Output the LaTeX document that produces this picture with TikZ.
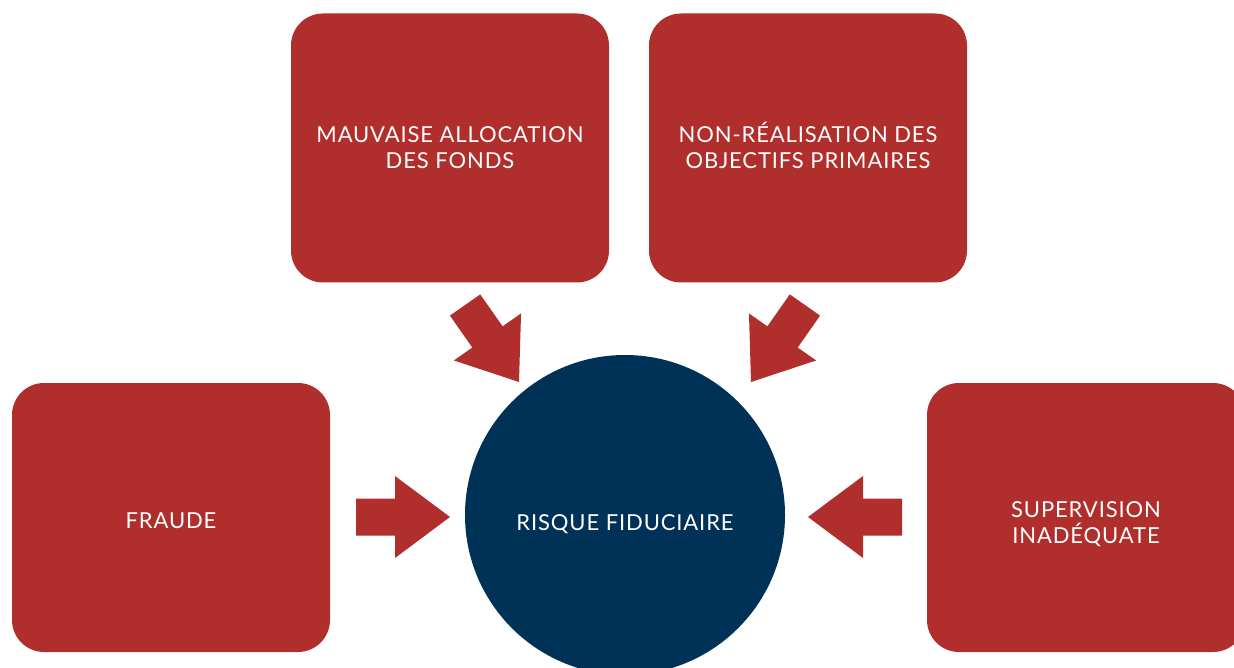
\documentclass[tikz,border=0pt]{standalone}
\usepackage{fontspec}
\setmainfont{Lato}[LetterSpace=4]
\definecolor{boxred}{RGB}{176,46,44}
\definecolor{navy}{RGB}{0,49,87}
\tikzset{
  x=1pt, y=-1pt,
  txt/.style={align=center, text=white, font=\fontsize{22}{26}\selectfont, inner sep=0pt},
  redbox/.style={fill=boxred, rounded corners=32pt, minimum width=318pt, minimum height=269pt,
    inner sep=0pt, txt},
  hub/.style={circle, fill=navy, minimum size=320pt, inner sep=0pt, txt},
  blockarrow/.pic={\fill[boxred] (0,0) -- (-55,-41) -- (-55,-18.5) -- (-94,-18.5) -- (-94,18.5) -- (-55,18.5) -- (-55,41) -- cycle;}
}
\begin{document}
\begin{tikzpicture}
\useasboundingbox (0,0) rectangle (1234,668);
\clip (0,0) rectangle (1234,668);
\node[redbox] (mauv) at (450,148) {MAUVAISE ALLOCATION\\DES FONDS};
\node[redbox, label={[txt, yshift=2.5pt]center:{NON-RÉALISATION DES\\OBJECTIFS PRIMAIRES}}] (nonr) at (808,148) {};
\node[redbox, label={[txt, yshift=-3pt]center:FRAUDE}] (fraude) at (171,517.5) {};
\node[redbox, label={[txt, yshift=-7pt]center:{SUPERVISION\\INADÉQUATE}}] (superv) at (1086,517.5) {};
\node[hub, label={[txt, yshift=-9pt]center:RISQUE FIDUCIAIRE}] (risque) at (625,515) {};
\pic[rotate=-55] at (519,382) {blockarrow};
\pic[rotate=-125] at (751,382) {blockarrow};
\pic at (450,517) {blockarrow};
\pic[rotate=180] at (808,517) {blockarrow};
\end{tikzpicture}
\end{document}
